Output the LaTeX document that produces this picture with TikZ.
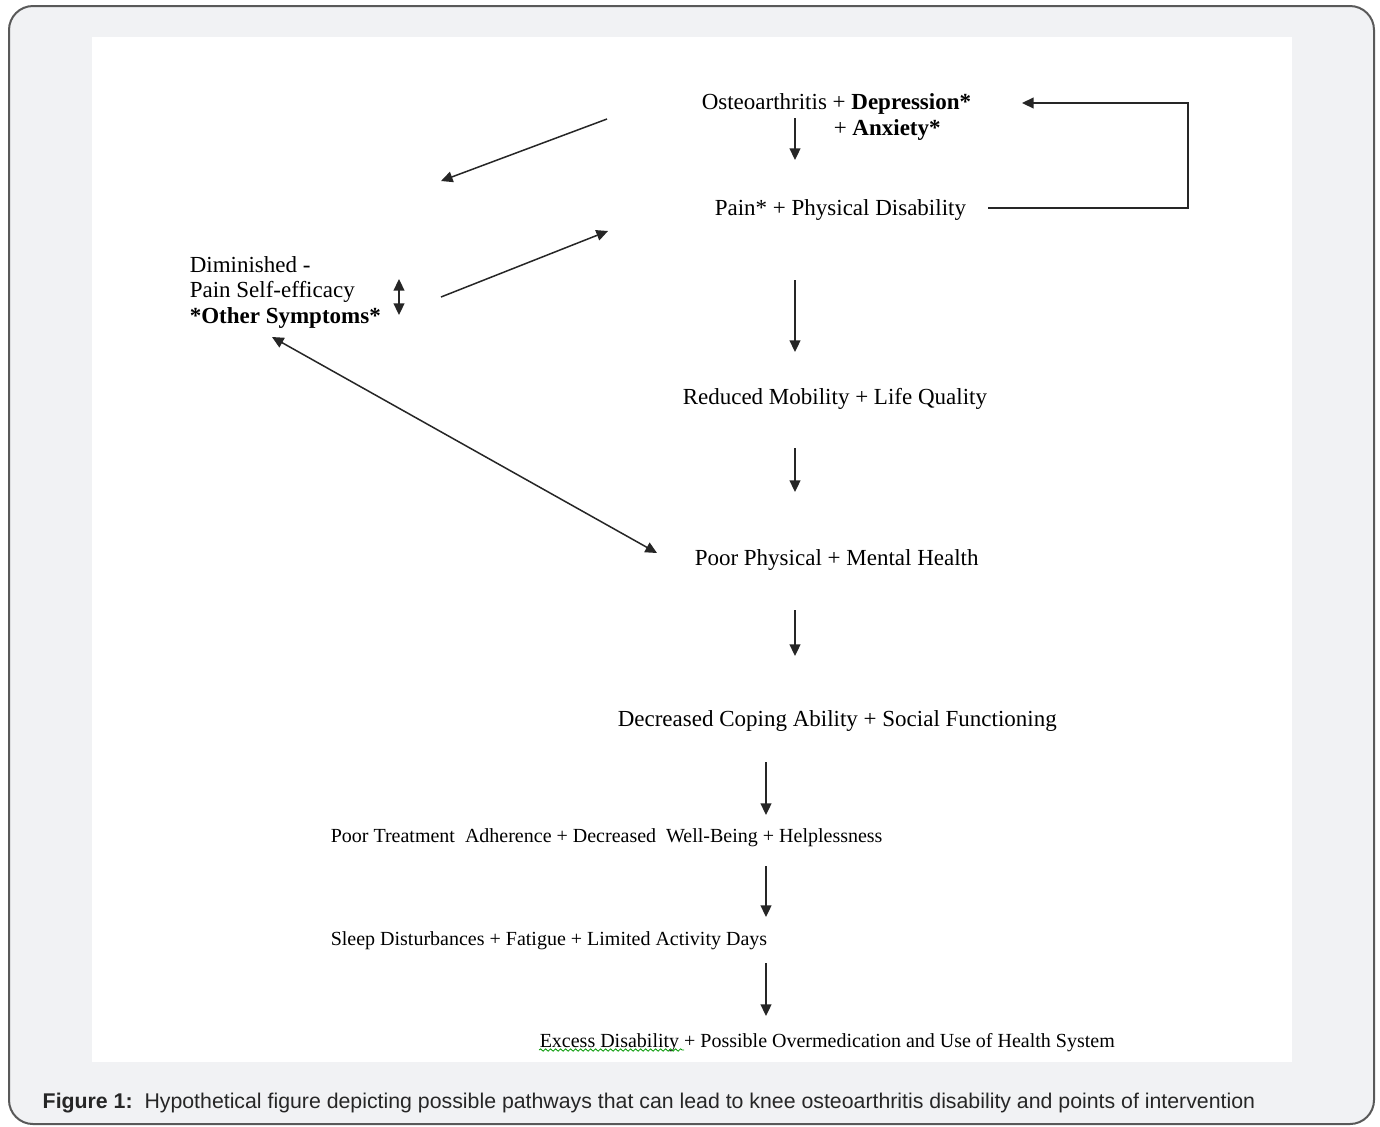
\documentclass[tikz,border=0pt]{standalone}
\usepackage{fontspec}
\setmainfont{Liberation Serif}
\newfontfamily\capfont{Liberation Sans}
\usetikzlibrary{arrows.meta,decorations.pathmorphing}

\begin{document}
\begin{tikzpicture}[x=0.5pt,y=-0.5pt,>={Triangle[length=5.8pt,width=5.4pt]},line width=0.75pt]
\tikzstyle{lbl}=[font=\fontsize{11.5}{13}\selectfont,inner sep=0pt,anchor=west,yshift=-1.5pt]
\tikzstyle{lbls}=[font=\fontsize{10}{12}\selectfont,inner sep=0pt,anchor=west,yshift=-1.5pt]
\tikzstyle{flow}=[->,black!85]
\definecolor{panelgray}{HTML}{F1F2F4}
\useasboundingbox (0,0) rectangle (1380,1126);
\begin{scope}
\clip (0,0) rectangle (1380,1126);
\draw[black!65,line width=1pt,fill=panelgray,rounded corners=12pt] (9,6) rectangle (1374,1124);
\end{scope}
\fill[white] (92,37) rectangle (1292,1062);
% labels
\node[lbl] (oa) at (701,101) {Osteoarthritis + \textbf{Depression*}};
\node[lbl] (anx) at (833,127) {+ \textbf{Anxiety*}};
\node[lbl] (pain) at (714,207) {Pain* + Physical Disability};
\node[lbl] (dim) at (189,262) {Diminished -};
\node[lbl] (pse) at (189,289) {Pain Self-efficacy};
\node[lbl] (oth) at (189,315) {\textbf{*Other Symptoms*}};
\node[lbl] (mob) at (682,396) {Reduced Mobility + Life Quality};
\node[lbl] (hlth) at (694,557) {Poor Physical + Mental Health};
\node[lbl] (cope) at (617,718) {Decreased Coping Ability + Social Functioning};
\node[lbls] (adh) at (330,835) {Poor Treatment\ \ Adherence + Decreased\ \ Well-Being + Helplessness};
\node[lbls] (sleep) at (330,938) {Sleep Disturbances + Fatigue + Limited Activity Days};
\node[lbls] (exc) at (539,1040) {Excess Disability + Possible Overmedication and Use of Health System};
\node[font=\capfont\fontsize{10.65}{12}\selectfont,inner sep=0pt,anchor=west,text=black!85,yshift=-1.5pt] (cap) at (42,1100)
  {\textbf{Figure 1:}\ \ Hypothetical figure depicting possible pathways that can lead to knee osteoarthritis disability and points of intervention};
% arrow ends
\coordinate (t1) at (795,118); \coordinate (h1) at (795,160);
\coordinate (fbs) at (988,208); \coordinate (fbe) at (1022,103);
\coordinate (d1s) at (607,119); \coordinate (d1e) at (441,181);
\coordinate (d2s) at (441,297); \coordinate (d2e) at (608,231);
\coordinate (udt) at (399,279); \coordinate (udb) at (399,315);
\coordinate (t2) at (795,280); \coordinate (h2) at (795,352);
\coordinate (t3) at (795,448); \coordinate (h3) at (795,492);
\coordinate (lt) at (272,337); \coordinate (lb) at (657,553);
\coordinate (t4) at (795,610); \coordinate (h4) at (795,656);
\coordinate (t5) at (766,762); \coordinate (h5) at (766,815);
\coordinate (t6) at (766,866); \coordinate (h6) at (766,917);
\coordinate (t7) at (766,963); \coordinate (h7) at (766,1016);
% arrows
\draw[flow] (t1) -- (h1);
\draw[flow] (fbs) -- ++(200,0) |- (fbe);
\draw[flow] (d1s) -- (d1e);
\draw[flow] (d2s) -- (d2e);
\draw[flow,<->] (udt) -- (udb);
\draw[flow] (t2) -- (h2);
\draw[flow] (t3) -- (h3);
\draw[flow,<->] (lt) -- (lb);
\draw[flow] (t4) -- (h4);
\draw[flow] (t5) -- (h5);
\draw[flow] (t6) -- (h6);
\draw[flow] (t7) -- (h7);
% spell-check mark
\draw[green!60!black,line width=0.4pt,decorate,decoration={snake,amplitude=0.6pt,segment length=2.5pt}]
  (539,1050) -- (684,1050);
\end{tikzpicture}
\end{document}
